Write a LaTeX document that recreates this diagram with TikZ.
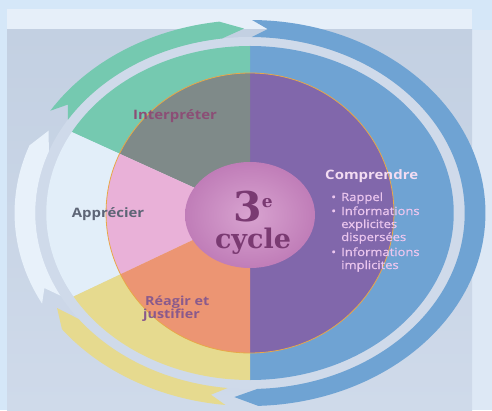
\documentclass[tikz,border=0pt]{standalone}
\usepackage{fontspec}
\setmainfont{Open Sans}
\newfontfamily\slabfont{DejaVu Serif}
\newfontfamily\semifont[FakeBold=0.7]{Open Sans}
\definecolor{bgblue}{HTML}{D5E7F8}
\definecolor{topband}{HTML}{E6EFF9}
\definecolor{rightstrip}{HTML}{DDE8F5}
\definecolor{panelTop}{HTML}{C3D0E2}
\definecolor{panelBot}{HTML}{CFDAEA}
\definecolor{gapc}{HTML}{CFDAEA}
\definecolor{cblue}{HTML}{6FA3D3}
\definecolor{cteal}{HTML}{75C9B0}
\definecolor{cwhite}{HTML}{E2EEF9}
\definecolor{cwhitearrow}{HTML}{E8F1FA}
\definecolor{cyellow}{HTML}{E6DA8F}
\definecolor{cpurple}{HTML}{8167AB}
\definecolor{cgrey}{HTML}{7F8A89}
\definecolor{cpink}{HTML}{E9B1D8}
\definecolor{corange}{HTML}{EC9573}
\definecolor{cedge}{HTML}{E8A848}
\definecolor{ccInner}{HTML}{D8A3D0}
\definecolor{ccOuter}{HTML}{C07DB8}
\definecolor{cycletxt}{HTML}{7A3A72}
\definecolor{interptxt}{HTML}{8C4E76}
\definecolor{apptxt}{HTML}{5D6576}
\definecolor{reagtxt}{HTML}{8A5A8C}
\definecolor{comptxt}{HTML}{F3DCF2}
\definecolor{bultxt}{HTML}{EBC6EE}
\newcommand\ringarrow[3]{%
  \pgfmathsetmacro\myNotch{#2-4}%
  \pgfmathsetmacro\myTip{#3-6}%
  \fill[#1] (#2:193) arc[start angle=#2, end angle=#3, radius=193]
    -- (\myTip:184.5) -- (#3:176) arc[start angle=#3, end angle=#2, radius=176]
    -- (\myNotch:184.5) -- cycle;}
\begin{document}
\begin{tikzpicture}[x=1pt,y=1pt,
  lbl/.style={inner sep=0pt, xscale=1.15},
  bul/.style={lbl, anchor=base west, text=bultxt, font=\semifont\fontsize{11.3}{13}\selectfont}]
\useasboundingbox (0,0) rectangle (492,410);
\fill[bgblue] (0,0) rectangle (492,410);
\fill[topband] (7,380) rectangle (472,401);
\fill[rightstrip] (472,0) rectangle (492,380);
\shade[top color=panelTop, bottom color=panelBot] (7,0) rectangle (472,380);
\begin{scope}[shift={(250,197)}, xscale=1.22]
  \fill[gapc] (0,0) circle (176);
  \fill[cblue] (0,0) -- (-90:167) arc[start angle=-90, end angle=90, radius=167] -- cycle;
  \fill[cteal] (0,0) -- (90:167) arc[start angle=90, end angle=151, radius=167] -- cycle;
  \fill[cwhite] (0,0) -- (151:167) arc[start angle=151, end angle=210, radius=167] -- cycle;
  \fill[cyellow] (0,0) -- (210:167) arc[start angle=210, end angle=270, radius=167] -- cycle;
  \ringarrow{cblue}{89.5}{-88}
  \ringarrow{cyellow}{264}{217}
  \ringarrow{cwhitearrow}{208}{159.5}
  \ringarrow{cteal}{148}{97.5}
  \begin{scope}
    \clip (0,0) ellipse [x radius=118, y radius=140];
    \fill[cpurple] (0,-200) rectangle (200,200);
    \fill[cgrey] (0,0) -- (90:400) -- (151:400) -- cycle;
    \fill[cpink] (0,0) -- (151:400) -- (210:400) -- cycle;
    \fill[corange] (0,0) -- (210:400) -- (270:400) -- cycle;
  \end{scope}
  \draw[cedge, line width=0.8pt] (0,0) ellipse [x radius=118, y radius=140];
\end{scope}
\shade[inner color=ccInner, outer color=ccOuter] (250,195) ellipse [x radius=65, y radius=53];
\node[anchor=base, inner sep=0pt, align=center, text=cycletxt,
  font=\slabfont\bfseries\fontsize{27}{27}\selectfont] (cyc) at (253,162)
  {{\fontsize{41}{27}\selectfont 3\raisebox{14pt}{\fontsize{17}{17}\selectfont e}}\\cycle};
\node[lbl, anchor=base, text=interptxt, font=\bfseries\fontsize{13}{15}\selectfont] (interp) at (175,290) {Interpréter};
\node[lbl, anchor=base, text=apptxt, font=\bfseries\fontsize{13}{15}\selectfont] (app) at (108,193) {Apprécier};
\node[lbl, anchor=base west, text=reagtxt, font=\bfseries\fontsize{12.5}{15}\selectfont] (reag1) at (145,105) {Réagir et};
\node[lbl, anchor=base west, text=reagtxt, font=\bfseries\fontsize{12.5}{15}\selectfont] (reag2) at (143,92) {justifier};
\node[lbl, anchor=base west, text=comptxt, font=\bfseries\fontsize{13}{15}\selectfont] (comp) at (325,230) {Comprendre};
\node[bul] (b1) at (331,209) {•};
\node[bul] (l1) at (341,209) {Rappel};
\node[bul] (b2) at (331,195) {•};
\node[bul] (l2) at (341,195) {Informations};
\node[bul] (l3) at (341,182) {explicites};
\node[bul] (l4) at (341,169) {dispersées};
\node[bul] (b3) at (331,154) {•};
\node[bul] (l5) at (341,154) {Informations};
\node[bul] (l6) at (341,141) {implicites};
\end{tikzpicture}
\end{document}
